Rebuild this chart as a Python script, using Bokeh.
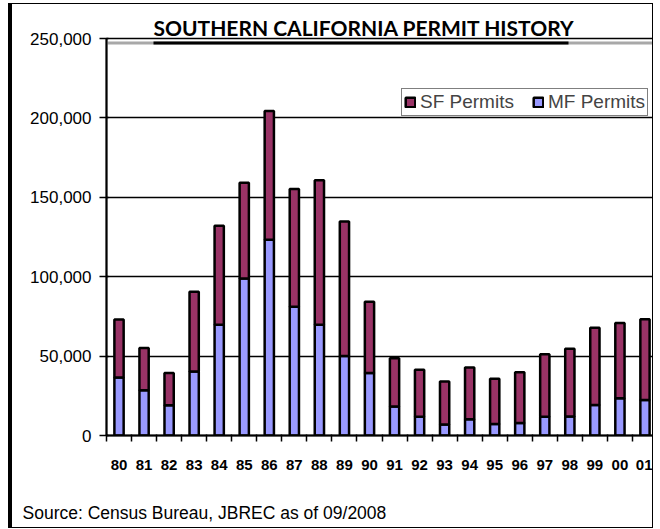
from bokeh.plotting import figure
from bokeh.models import (ColumnDataSource, NumeralTickFormatter, FixedTicker, Legend,
                          LegendItem, Range1d, BoxAnnotation, Title)
from bokeh.embed import file_html
from bokeh.resources import INLINE

years = ["80", "81", "82", "83", "84", "85", "86", "87", "88", "89", "90",
         "91", "92", "93", "94", "95", "96", "97", "98", "99", "00", "01"]
mf_permits = [36500, 28500, 19000, 40300, 69800, 98900, 123200, 81000, 69800, 50000, 39400,
              18200, 11800, 7000, 10300, 7200, 7800, 11800, 12000, 19200, 23400, 22400]
sf_permits = [36500, 26600, 20400, 50200, 62300, 60200, 81200, 74300, 91000, 84800, 44800,
              30500, 29600, 27000, 32500, 28500, 32100, 39300, 42600, 48700, 47500, 50800]
y_ticks = [0, 50000, 100000, 150000, 200000, 250000]

n = len(years)
centers = [i + 0.5 for i in range(n)]
bounds = list(range(n + 1))
source = ColumnDataSource(dict(x=centers, mf=mf_permits, sf=sf_permits, year=years))

SF_COLOR = "#993366"
MF_COLOR = "#9999FF"

p = figure(width=645, height=525, output_backend="svg", toolbar_location=None,
           x_range=Range1d(0, n), y_range=Range1d(0, 250000),
           min_border_left=94, min_border_right=0, min_border_top=34, min_border_bottom=94)
p.styles = {"margin-left": "8px", "margin-top": "3px",
            "border-left": "4px solid black", "border-top": "1px solid black",
            "border-right": "1px solid black", "border-bottom": "1px solid black"}
p.background_fill_color = "white"
p.border_fill_color = "white"
p.outline_line_color = "black"
p.outline_line_width = 1.5

# plot-area shadow under the top edge
shadow = BoxAnnotation(left=0, right=560, bottom=391, top=394,
                       left_units="screen", right_units="screen",
                       top_units="screen", bottom_units="screen",
                       fill_color="#a8a8a8", fill_alpha=1, line_color=None, level="underlay")
p.add_layout(shadow)

r = p.vbar_stack(["mf", "sf"], x="x", width=0.37, source=source,
                 fill_color=[MF_COLOR, SF_COLOR], line_color="black", line_width=2.5)

# y axis
p.yaxis.ticker = FixedTicker(ticks=y_ticks)
p.yaxis.formatter = NumeralTickFormatter(format="0,0")
p.yaxis.axis_line_width = 2
p.yaxis.major_tick_out = 7
p.yaxis.major_tick_in = 2
p.yaxis.major_tick_line_width = 1.5
p.yaxis.minor_tick_line_color = None
p.yaxis.major_label_text_font = "Liberation Sans"
p.yaxis.major_label_text_font_size = "17px"
p.yaxis.major_label_text_color = "black"
p.yaxis.major_label_standoff = 8

# x axis
p.xaxis.ticker = FixedTicker(ticks=centers, minor_ticks=bounds)
p.xaxis.major_label_overrides = {c: y for c, y in zip(centers, years)}
p.xaxis.axis_line_width = 2
p.xaxis.major_tick_line_color = None
p.xaxis.major_tick_out = 6
p.xaxis.minor_tick_out = 6
p.xaxis.minor_tick_in = 1
p.xaxis.minor_tick_line_width = 1.5
p.xaxis.minor_tick_line_color = "black"
p.xaxis.major_label_text_font = "Liberation Sans"
p.xaxis.major_label_text_font_style = "bold"
p.xaxis.major_label_text_font_size = "15px"
p.xaxis.major_label_text_color = "black"
p.xaxis.major_label_standoff = 18
# blank axis label used only as vertical spacing above the source note
p.xaxis.axis_label = " "
p.xaxis.axis_label_text_font_size = "16px"
p.xaxis.axis_label_standoff = 6

p.xgrid.grid_line_color = None
p.ygrid.ticker = FixedTicker(ticks=y_ticks)
p.ygrid.grid_line_color = "black"
p.ygrid.grid_line_width = 1.5

legend = Legend(items=[LegendItem(label="SF Permits", renderers=[r[1]]),
                       LegendItem(label="MF Permits", renderers=[r[0]])],
                orientation="horizontal", location=(295, 319),
                border_line_color="black", border_line_width=1,
                background_fill_color="white", background_fill_alpha=1,
                label_text_font="Liberation Sans", label_text_font_size="19px",
                glyph_width=12, glyph_height=12, label_standoff=4, spacing=18,
                padding=2, margin=0, label_height=15)
p.add_layout(legend)

p.title.text = "SOUTHERN CALIFORNIA PERMIT HISTORY"
p.title.text_font = "Lato"
p.title.text_font_style = "bold"
p.title.text_font_size = "21px"
p.title.align = "left"
p.title.offset = 47
p.title.standoff = -3
p.title.text_color = "black"

underline = BoxAnnotation(left=47, right=462, bottom=391, top=394,
                          left_units="screen", right_units="screen",
                          top_units="screen", bottom_units="screen",
                          fill_color="black", fill_alpha=1, line_color=None)
p.add_layout(underline)

src = Title(text="Source: Census Bureau, JBREC as of 09/2008", align="left", offset=-84,
            text_font="Liberation Sans", text_font_size="17.5px", text_font_style="normal",
            text_color="black", standoff=4)
p.add_layout(src, "below")

open("out.html", "w").write(file_html(p, INLINE))
